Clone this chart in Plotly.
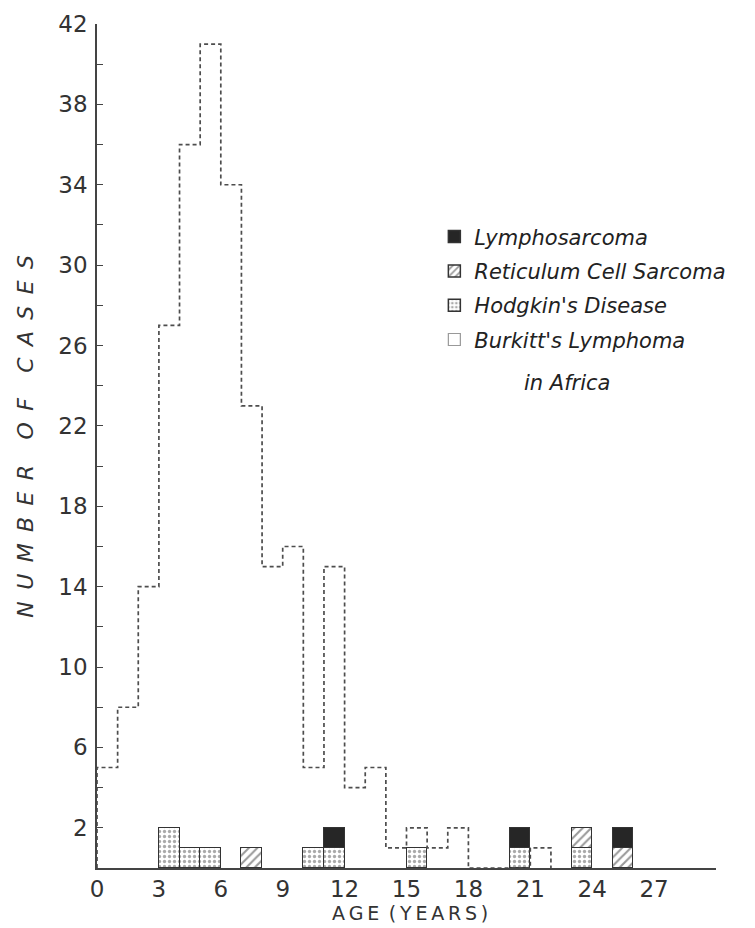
import plotly.graph_objects as go

# Burkitt's lymphoma in Africa: counts per 1-year age bin starting at age 0
burkitt_bin_start = list(range(0, 22))
burkitt_counts = [5, 8, 14, 27, 36, 41, 34, 23, 15, 16, 5, 15, 4, 5, 1, 2, 1, 2, 0, 0, 0, 1]

# Other lymphomas: 1-year bins (start age)
bar_bin_start = [3, 4, 5, 7, 10, 11, 15, 20, 23, 25]
hodgkin = [2, 1, 1, 0, 1, 1, 1, 1, 1, 0]
reticulum = [0, 0, 0, 1, 0, 0, 0, 0, 1, 1]
lympho = [0, 0, 0, 0, 0, 1, 0, 1, 0, 1]

x_ticks = [0, 3, 6, 9, 12, 15, 18, 21, 24, 27]
y_ticks = list(range(2, 43, 2))
y_ticktext = [str(v) if (v - 2) % 4 == 0 else "" for v in y_ticks]

names = {
    "lym": "Lymphosarcoma",
    "ret": "Reticulum Cell Sarcoma",
    "hod": "Hodgkin's Disease",
    "bur": "Burkitt's Lymphoma",
}
name_cont = "in Africa"

FONT = "DejaVu Sans"
INK = "#333333"

centers = [b + 0.5 for b in bar_bin_start]
outline = dict(color="#333333", width=1.5)

fig = go.Figure()
fig.add_trace(go.Bar(
    x=centers, y=hodgkin, width=1, name=names["hod"], legendrank=3, legendgroup="hod",
    marker=dict(color="white", line=outline,
                pattern=dict(shape=".", fgcolor="#555555", bgcolor="white", size=5, solidity=0.35)),
))
fig.add_trace(go.Bar(
    x=centers, y=reticulum, width=1, name=names["ret"], legendrank=2, legendgroup="ret",
    marker=dict(color="white", line=outline,
                pattern=dict(shape="/", fgcolor="#333333", bgcolor="white", size=6, solidity=0.35)),
))
fig.add_trace(go.Bar(
    x=centers, y=lympho, width=1, name=names["lym"], legendrank=1, legendgroup="lym",
    marker=dict(color="#262626", line=outline),
))

# Burkitt step outline: (start,0) -> up to each bin count (hv) -> down to 0 at the end
step_x = [burkitt_bin_start[0]] + burkitt_bin_start + [burkitt_bin_start[-1] + 1]
step_y = [0] + burkitt_counts + [0]
fig.add_trace(go.Scatter(
    x=step_x, y=step_y, mode="lines",
    line=dict(shape="hv", color="#4d4d4d", width=1.7, dash="4px,3px"),
    showlegend=False, hoverinfo="skip",
))
# legend entry for Burkitt
fig.add_trace(go.Bar(
    x=[None], y=[None], name=names["bur"], legendrank=4, legendgroup="bur",
    marker=dict(color="white", line=dict(color="#999999", width=1.2)),
))

sp = "\u00a0\u2009"
ytitle = sp.join("NUMBER") + "\u00a0\u00a0\u00a0\u2009" + sp.join("OF") + "\u00a0\u00a0\u00a0\u2009" + sp.join("CASES")

# the page body adds an 8px offset, so the figure is 8px smaller than the window
fig.update_layout(
    width=747, height=920,
    margin=dict(l=89, r=39, t=16, b=60),
    paper_bgcolor="white", plot_bgcolor="white",
    barmode="stack", bargap=0,
    showlegend=True,
    legend=dict(
        x=0.545, y=0.772, xanchor="left", yanchor="top",
        font=dict(family=FONT, size=21, color="#222222", style="italic"),
        tracegroupgap=4, bgcolor="rgba(0,0,0,0)", itemwidth=30,
    ),
    font=dict(family=FONT, color=INK),
    annotations=[
        dict(text=name_cont, xref="paper", yref="paper", x=0.686, y=0.575,
             xanchor="left", yanchor="middle", showarrow=False,
             font=dict(family=FONT, size=21, color="#222222", style="italic")),
        dict(text="A\u2009G\u2009E\u2002(\u2009Y\u2009E\u2009A\u2009R\u2009S\u2009)",
             xref="paper", yref="paper", x=0.505, y=-0.053,
             xanchor="center", yanchor="middle", showarrow=False,
             font=dict(family=FONT, size=19, color=INK)),
        dict(text=ytitle,
             xref="paper", yref="paper", x=-0.115, y=0.512, textangle=-90,
             xanchor="center", yanchor="middle", showarrow=False,
             font=dict(family=FONT, size=22, color=INK, style="italic")),
    ],
)
fig.update_xaxes(
    range=[0, 30], tickvals=x_ticks, ticks="", showgrid=False, zeroline=False,
    showline=True, linecolor="#444444", linewidth=1.6, automargin=False,
    tickfont=dict(size=23, color=INK),
)
fig.update_yaxes(
    range=[0, 42], tickvals=y_ticks, ticktext=y_ticktext, ticks="inside", ticklen=6,
    tickcolor="#444444", tickwidth=1.4, automargin=False, ticklabelstandoff=3,
    showgrid=False, zeroline=False, showline=True, linecolor="#444444", linewidth=1.6,
    tickfont=dict(size=23, color=INK),
)

fig.write_html("out.html")
